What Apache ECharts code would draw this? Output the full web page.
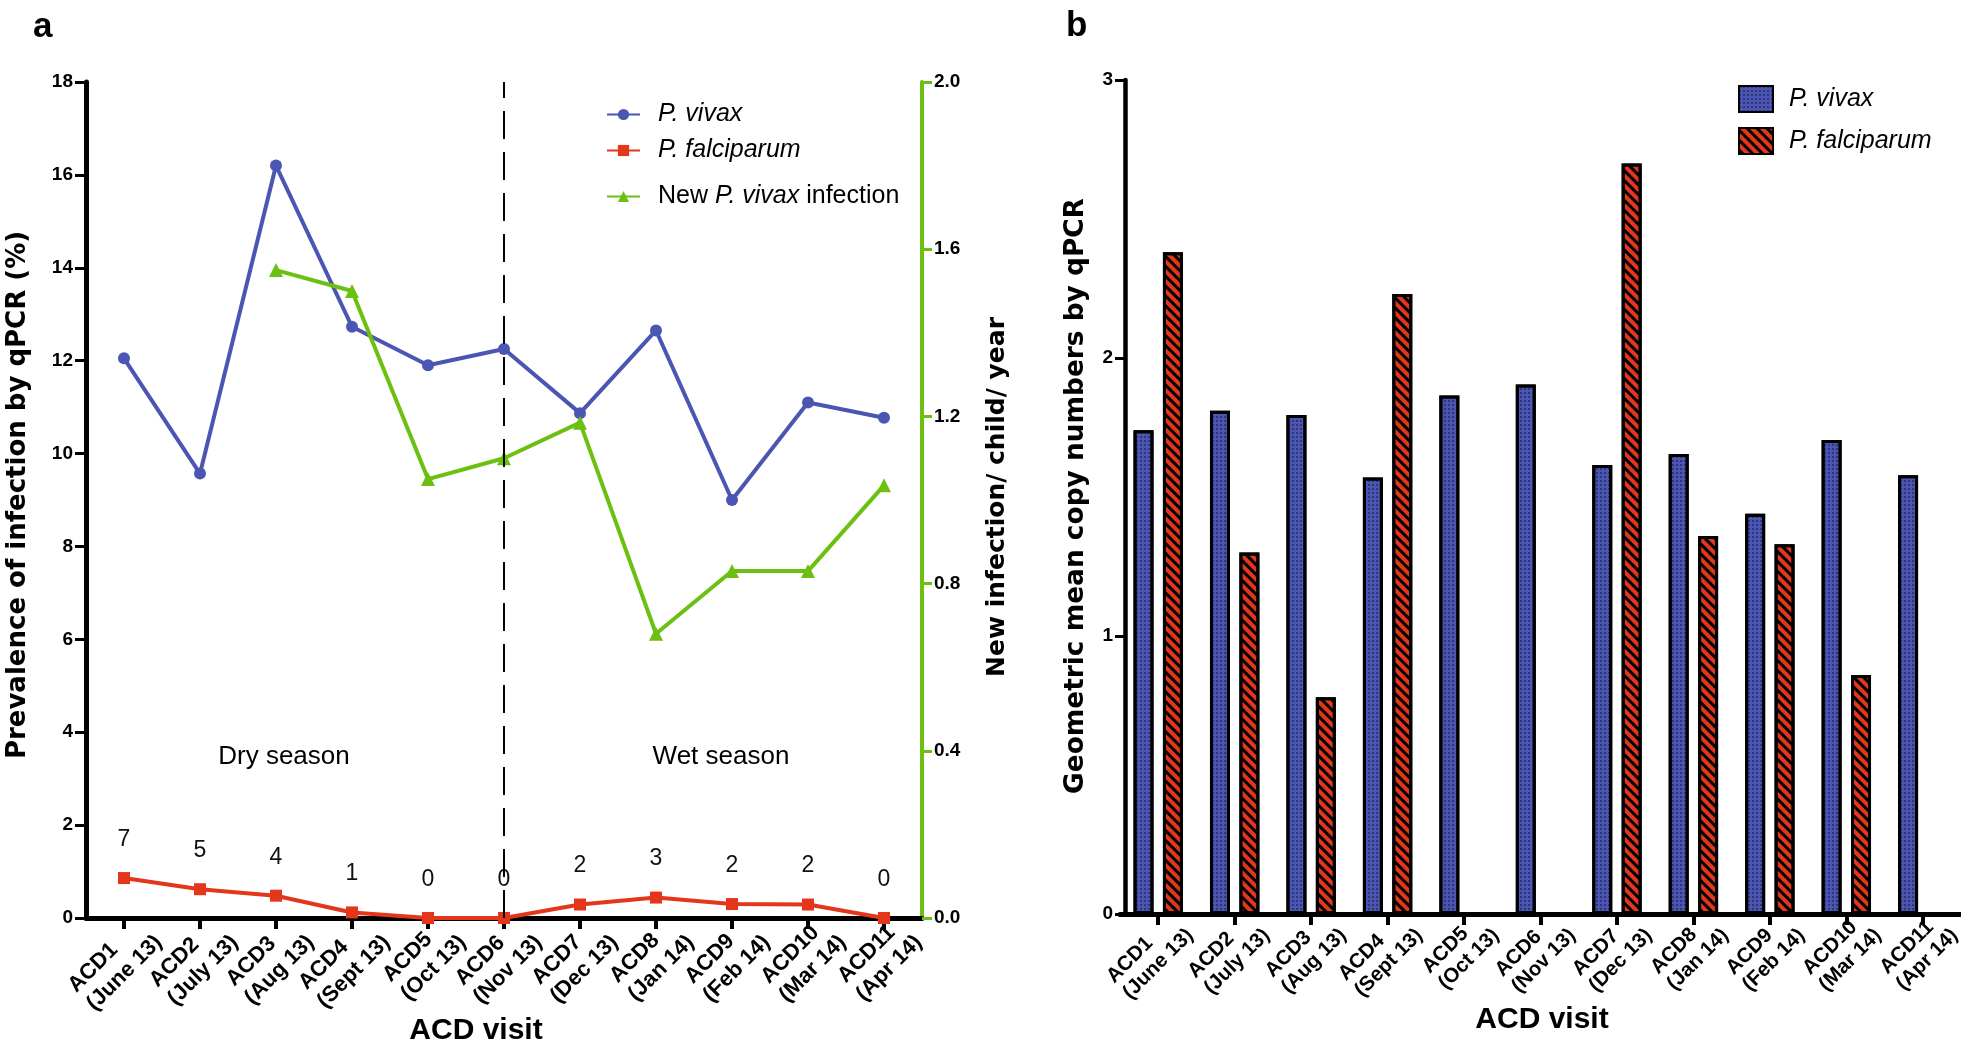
<!DOCTYPE html>
<html><head><meta charset="utf-8">
<script src="https://cdn.jsdelivr.net/npm/echarts@6/dist/echarts.min.js"></script>
<style>html,body{margin:0;padding:0;background:#fff;overflow:hidden}
#ca{position:absolute;left:0;top:0;width:1040px;height:1049px}
#cb{position:absolute;left:1040px;top:0;width:921px;height:1049px}</style>
</head><body><div id="ca"></div><div id="cb"></div>
<script>
// ---- data ----
const visits = ['ACD1','ACD2','ACD3','ACD4','ACD5','ACD6','ACD7','ACD8','ACD9','ACD10','ACD11'];
const months = ['June 13','July 13','Aug 13','Sept 13','Oct 13','Nov 13','Dec 13','Jan 14','Feb 14','Mar 14','Apr 14'];
const vivaxPrev = [12.05, 9.57, 16.2, 12.73, 11.9, 12.25, 10.87, 12.65, 9.0, 11.1, 10.77];
const falcPrev  = [0.86, 0.62, 0.48, 0.12, 0, 0, 0.29, 0.44, 0.3, 0.29, 0];
const falcCounts = [7, 5, 4, 1, 0, 0, 2, 3, 2, 2, 0];
const newVivax  = [null, null, 1.55, 1.5, 1.05, 1.1, 1.185, 0.68, 0.83, 0.83, 1.035];
const prevTicks = [0, 2, 4, 6, 8, 10, 12, 14, 16, 18];
const newTicks  = [0.0, 0.4, 0.8, 1.2, 1.6, 2.0];
const vivaxGM = [1.74, 1.81, 1.795, 1.57, 1.865, 1.905, 1.615, 1.655, 1.44, 1.705, 1.578];
const falcGM  = [2.38, 1.30, 0.78, 2.23, null, null, 2.70, 1.36, 1.33, 0.86, null];
const gmTicks = [0, 1, 2, 3];
const dividerVisit = 'ACD6';

// ---- styles ----
const BLUE = '#4b56b2', RED = '#e3361b', GREEN = '#6cc012';
const SANS = 'Liberation Sans';
const labelFmt = (v) => '{a|' + v + '}\n{a|(' + months[visits.indexOf(v)] + ')}';
const legendText = (pad) => ({fontFamily: SANS, fontSize: 25, color: '#000', padding: [0,0,0,pad],
  rich: {i: {fontStyle: 'italic', fontFamily: SANS, fontSize: 25, color: '#000'}}});

const ca = echarts.init(document.getElementById('ca'), null, {renderer: 'canvas'});
ca.setOption({
  animation: false,
  backgroundColor: '#fff',
  grid: {left: 86, right: 118, top: 82, bottom: 131, outerBoundsMode: 'none', containLabel: false},
  legend: [
    {left: 606, top: 102, padding: 0, selectedMode: false, itemWidth: 33, itemHeight: 14, data: ['P. vivax'],
     formatter: '{i|P. vivax}', textStyle: legendText(13)},
    {left: 606, top: 138, padding: 0, selectedMode: false, itemWidth: 33, itemHeight: 14, data: ['P. falciparum'],
     formatter: '{i|P. falciparum}', textStyle: legendText(13)},
    {left: 606, top: 184, padding: 0, selectedMode: false, itemWidth: 33, itemHeight: 14, data: ['New P. vivax infection'],
     formatter: 'New {i|P. vivax} infection', textStyle: legendText(13)}
  ],
  xAxis: {
    type: 'category', data: visits, boundaryGap: true,
    axisLine: {show: true, lineStyle: {color: '#000', width: 5}},
    axisTick: {show: true, alignWithLabel: true, length: 11, lineStyle: {color: '#000', width: 4}},
    splitLine: {show: false},
    axisLabel: {interval: 0, rotate: 45, margin: 16, padding: [30, -21, 0, 0], formatter: labelFmt,
      rich: {a: {align: 'left', fontFamily: SANS, fontWeight: 'bold', fontSize: 22, lineHeight: 26, color: '#000'}}}
  },
  yAxis: [
    {type: 'value', position: 'left', min: prevTicks[0], max: prevTicks[prevTicks.length-1], interval: prevTicks[1]-prevTicks[0],
     axisLine: {show: true, lineStyle: {color: '#000', width: 5}},
     axisTick: {show: true, length: 11, lineStyle: {color: '#000', width: 3}},
     splitLine: {show: false},
     axisLabel: {margin: 13, fontFamily: SANS, fontWeight: 'bold', fontSize: 19, color: '#000'}},
    {type: 'value', position: 'right', min: newTicks[0], max: newTicks[newTicks.length-1], interval: newTicks[1]-newTicks[0],
     axisLine: {show: true, lineStyle: {color: GREEN, width: 4}},
     axisTick: {show: true, length: 10, lineStyle: {color: GREEN, width: 3}},
     splitLine: {show: false},
     axisLabel: {margin: 12, fontFamily: SANS, fontWeight: 'bold', fontSize: 19, color: '#000', formatter: v => v.toFixed(1)}}
  ],
  series: [
    {name: 'P. vivax', type: 'line', yAxisIndex: 0, data: vivaxPrev, symbol: 'circle', symbolSize: 12,
     lineStyle: {color: BLUE, width: 4}, itemStyle: {color: BLUE}, z: 3,
     markLine: {silent: true, symbol: 'none', label: {show: false},
       lineStyle: {color: '#000', width: 2, type: [28, 13]},
       data: [{xAxis: dividerVisit}]}},
    {name: 'P. falciparum', type: 'line', yAxisIndex: 0, data: falcPrev, symbol: 'rect', symbolSize: 12,
     lineStyle: {color: RED, width: 4}, itemStyle: {color: RED}, z: 4,
     label: {show: true, position: 'top', distance: 21, formatter: p => String(falcCounts[p.dataIndex]),
       fontFamily: SANS, fontSize: 23, color: '#111'}},
    {name: 'New P. vivax infection', type: 'line', yAxisIndex: 1, data: newVivax, symbol: 'triangle', symbolSize: 14,
     connectNulls: false, lineStyle: {color: GREEN, width: 4}, itemStyle: {color: GREEN}, z: 3}
  ],
  graphic: [
    {type: 'text', x: 33, y: 27, style: {text: 'a', font: 'bold 35px "Liberation Sans"', fill: '#000', textAlign: 'left', textVerticalAlign: 'middle'}},
    {type: 'text', x: 284, y: 757, style: {text: 'Dry season', font: '26px "Liberation Sans"', fill: '#000', textAlign: 'center', textVerticalAlign: 'middle'}},
    {type: 'text', x: 721, y: 757, style: {text: 'Wet season', font: '26px "Liberation Sans"', fill: '#000', textAlign: 'center', textVerticalAlign: 'middle'}},
    {type: 'text', x: 18, y: 495, rotation: Math.PI/2, style: {text: 'Prevalence of infection by qPCR (%)', font: 'bold 26px "DejaVu Sans"', fill: '#000', textAlign: 'center', textVerticalAlign: 'middle'}},
    {type: 'text', x: 997, y: 497, rotation: Math.PI/2, style: {text: 'New infection/ child/ year', font: 'bold 25px "DejaVu Sans"', fill: '#000', textAlign: 'center', textVerticalAlign: 'middle'}},
    {type: 'text', x: 476, y: 1031, style: {text: 'ACD visit', font: 'bold 30px "Liberation Sans"', fill: '#000', textAlign: 'center', textVerticalAlign: 'middle'}}
  ]
});

const cb = echarts.init(document.getElementById('cb'), null, {renderer: 'canvas'});
const dotDecal = {symbol: 'circle', symbolSize: 1, color: 'rgba(10,10,40,0.55)', dashArrayX: [1.4, 1.8], dashArrayY: [1.4, 1.8], rotation: 0};
const stripeDecal = {symbol: 'rect', symbolSize: 1, color: '#000', dashArrayX: [1, 0], dashArrayY: [3, 4], rotation: Math.PI/4};
cb.setOption({
  animation: false,
  backgroundColor: '#fff',
  aria: {enabled: true, decal: {show: true}},
  grid: {left: 80, right: 0, top: 80, bottom: 135, outerBoundsMode: 'none', containLabel: false},
  legend: [
    {left: 698, top: 85, padding: 0, selectedMode: false, icon: 'rect', itemWidth: 34, itemHeight: 26, data: ['P. vivax'],
     formatter: '{i|P. vivax}', textStyle: legendText(11)},
    {left: 698, top: 127, padding: 0, selectedMode: false, icon: 'rect', itemWidth: 34, itemHeight: 26, data: ['P. falciparum'],
     formatter: '{i|P. falciparum}', textStyle: legendText(11)}
  ],
  xAxis: {
    type: 'category', data: visits, boundaryGap: true,
    axisLine: {show: true, lineStyle: {color: '#000', width: 5}},
    axisTick: {show: true, alignWithLabel: true, length: 11, lineStyle: {color: '#000', width: 4}},
    splitLine: {show: false},
    axisLabel: {interval: 0, rotate: 45, margin: 19, padding: [21, -23, 0, 0], formatter: labelFmt,
      rich: {a: {align: 'left', fontFamily: SANS, fontWeight: 'bold', fontSize: 20.5, lineHeight: 23, color: '#000'}}}
  },
  yAxis: {type: 'value', position: 'left', offset: -5, min: gmTicks[0], max: gmTicks[gmTicks.length-1], interval: gmTicks[1]-gmTicks[0],
     axisLine: {show: true, lineStyle: {color: '#000', width: 4.5}},
     axisTick: {show: true, length: 10, lineStyle: {color: '#000', width: 3}},
     splitLine: {show: false},
     axisLabel: {margin: 12, fontFamily: SANS, fontWeight: 'bold', fontSize: 19, color: '#000'}},
  series: [
    {name: 'P. vivax', type: 'bar', data: vivaxGM, barWidth: 20, barGap: '47%',
     itemStyle: {color: BLUE, borderColor: '#000', borderWidth: 3, decal: dotDecal}},
    {name: 'P. falciparum', type: 'bar', data: falcGM, barWidth: 20, barGap: '47%',
     itemStyle: {color: RED, borderColor: '#000', borderWidth: 3, decal: stripeDecal}}
  ],
  graphic: [
    {type: 'text', x: 26, y: 26, style: {text: 'b', font: 'bold 35px "Liberation Sans"', fill: '#000', textAlign: 'left', textVerticalAlign: 'middle'}},
    {type: 'text', x: 36, y: 496, rotation: Math.PI/2, style: {text: 'Geometric mean copy numbers by qPCR', font: 'bold 26.4px "DejaVu Sans"', fill: '#000', textAlign: 'center', textVerticalAlign: 'middle'}},
    {type: 'text', x: 502, y: 1020, style: {text: 'ACD visit', font: 'bold 30px "Liberation Sans"', fill: '#000', textAlign: 'center', textVerticalAlign: 'middle'}}
  ]
});
</script></body></html>
